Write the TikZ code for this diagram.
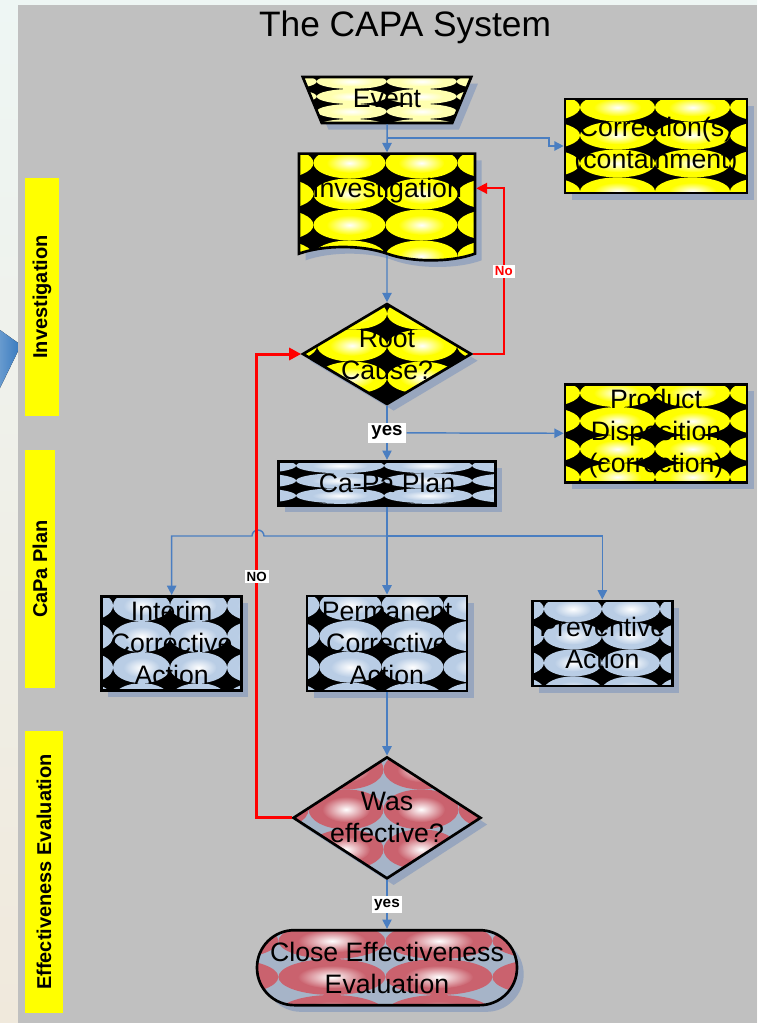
\documentclass[tikz,border=0pt]{standalone}
\usepackage{fontspec}
\setmainfont{Liberation Sans}
\usetikzlibrary{arrows.meta,positioning,shapes.geometric,shapes.symbols,shadows,calc}

\definecolor{panelgrey}{RGB}{192,192,192}
\definecolor{backtop}{RGB}{238,246,244}
\definecolor{backbot}{RGB}{240,233,220}
\definecolor{arrowblue}{RGB}{52,120,190}
\definecolor{flowblue}{RGB}{74,126,193}
\definecolor{shadowc}{RGB}{152,166,190}
\definecolor{capayellow}{RGB}{255,255,0}
\definecolor{paleyellow}{RGB}{255,255,175}
\definecolor{steelblue}{RGB}{185,205,229}
\definecolor{evalred}{RGB}{202,98,110}
\definecolor{evalbg}{RGB}{166,180,200}

\newcommand\boxfont{\fontsize{20}{24}\selectfont}

\tikzset{
  tiles/.style n args={4}{path picture={
    \fill[#1] (path picture bounding box.south west) rectangle (path picture bounding box.north east);
    \foreach \tx in {0,...,5}{
      \foreach \ty in {0,...,4}{
        \coordinate (tc) at ($(path picture bounding box.north west)+({(\tx-0.3)*#3},{(\ty+0.3)*#4})$);
        \fill[#2] (tc) ellipse [x radius=#3/2, y radius=#4/2];
        \shade[inner color=white, outer color=#2] (tc) ellipse [x radius=#3*0.32, y radius=#4*0.32];
      }}}},
  shadowed/.style={drop shadow={shadow xshift=5pt, shadow yshift=-5pt, fill=shadowc, opacity=1}},
  box/.style={draw=black, line width=2pt, align=center, font=\boxfont, shadowed},
  sidebar/.style={fill=capayellow, font=\bfseries\fontsize{15}{18}\selectfont, rotate=90, inner sep=0pt},
  flow/.style={-{Triangle[length=7pt,width=7pt]}, line width=1.1pt, draw=flowblue},
  noflow/.style={-{Triangle[length=8pt,width=8pt]}, line width=1.5pt, draw=red},
  noloop/.style={-{Triangle[length=9pt,width=9pt]}, line width=2.25pt, draw=red},
  yeslbl/.style={fill=white, font=\bfseries\fontsize{14}{16}\selectfont, inner sep=2.5pt},
  nolbl/.style={fill=white, text=red, font=\bfseries\fontsize{10}{12}\selectfont, inner sep=1.5pt}
}

\begin{document}
\begin{tikzpicture}[x=0.75pt, y=-0.75pt]
  \useasboundingbox (0,0) rectangle (757,1023);
  % backdrop
  \shade[top color=backtop, bottom color=backbot] (0,0) rectangle (757,1023);
  \fill[left color=arrowblue!75!white, right color=arrowblue] (0,330) -- (21,345) -- (0,388) -- cycle;
  \fill[panelgrey] (18,5) rectangle (757,1023);

  \node[font=\fontsize{26.5}{30}\selectfont] (title) at (405,27) {The CAPA System};

  % lanes
  \node[sidebar, minimum width=178.5pt, minimum height=25.5pt] (laneinv) at (42,297) {Investigation};
  \node[sidebar, minimum width=178.5pt, minimum height=22.5pt] (laneplan) at (40,569) {CaPa Plan};
  \node[sidebar, minimum width=211.5pt, minimum height=28.5pt] (laneeval) at (44,872) {Effectiveness Evaluation};

  % investigation
  \node[box, trapezium, shape border rotate=180, trapezium left angle=66, trapezium right angle=66,
        trapezium stretches=true, minimum width=126.75pt, minimum height=34.5pt, inner sep=0pt,
        tiles={black}{paleyellow}{70}{15}] (event) at (387,100) {\raisebox{3pt}{Event}};
  \node[box, tape, tape bend top=none, tape bend bottom=out and in, tape bend height=10pt,
        minimum width=132pt, minimum height=80pt, tiles={black}{capayellow}{72}{31},
        below=21pt of event] (inv) {\raisebox{18pt}{Investigation}};
  \node[box, minimum width=136.5pt, minimum height=70.5pt,
        tiles={black}{capayellow}{75}{28}] (corr) at (656,146) {Correction(s)\\(containment)};
  \node[box, diamond, minimum width=126.75pt, minimum height=75.75pt, inner sep=0pt,
        tiles={black}{capayellow}{70}{32},
        label={[font=\boxfont, align=center]center:Root\\Cause?}] (root) at (387,354) {};
  \node[box, minimum width=136.5pt, minimum height=69.75pt,
        tiles={black}{capayellow}{75}{28}] (prod) at (656,433.5) {Product\\Disposition\\(correction)};

  % plan
  \node[box, minimum width=162.75pt, minimum height=33pt, tiles={black}{steelblue}{88}{15},
        below=40.5pt of root] (capa) {Ca-Pa Plan};
  \node[box, minimum width=120pt, minimum height=71.25pt, tiles={black}{steelblue}{62}{31},
        below=66pt of capa] (perm) {Permanent\\Corrective\\Action};
  \node[box, minimum width=105pt, minimum height=70.5pt, tiles={black}{steelblue}{57}{31},
        left=47pt of perm] (interim) {Interim\\Corrective\\Action};
  \node[box, minimum width=105pt, minimum height=63.75pt, tiles={black}{steelblue}{58}{27},
        right=47pt of perm] (prev) {Preventive\\Action};

  % evaluation
  \node[box, diamond, minimum width=141pt, minimum height=91.5pt, inner sep=0pt,
        tiles={evalbg}{evalred}{75}{40},
        label={[font=\boxfont, align=center]center:Was\\effective?},
        below=47.5pt of perm] (was) {};
  \node[box, rounded corners=28pt, minimum width=195pt, minimum height=56.25pt,
        tiles={evalbg}{evalred}{107}{36},
        below=36.5pt of was] (close) {Close Effectiveness\\Evaluation};

  % connectors
  \coordinate (j1) at (387,138);
  \coordinate (j2) at (387,536);
  \draw[flow] (event) -- (inv);
  \draw[flow] (j1) -- ++(162,0) |- (corr.west);
  \draw[flow] (inv) -- (root);
  \draw[flow] (root) -- node[yeslbl] (yes1) {yes} (capa);
  \draw[flow] (yes1) -- (prod);
  \draw[flow] (capa) -- (perm);
  \draw[flow] (j2) -- ++(-123,0) arc[start angle=0, end angle=180, radius=4.5pt] -| (interim);
  \draw[flow] (j2) -| (prev);
  \draw[flow] (perm) -- (was);
  \draw[flow] (was) -- node[yeslbl, font=\bfseries\fontsize{11.5}{13}\selectfont, inner sep=2pt] (yes2) {yes} (close);
  \draw[noflow] (root.east) -- ++(31,0) |- node[pos=0.25, nolbl] (no1) {No} ([yshift=9pt]inv.east);
  \draw[noloop] (was.west) -- ++(-35,0) |- node[pos=0.26, nolbl, text=black] (no2) {NO} (root.west);
\end{tikzpicture}
\end{document}
